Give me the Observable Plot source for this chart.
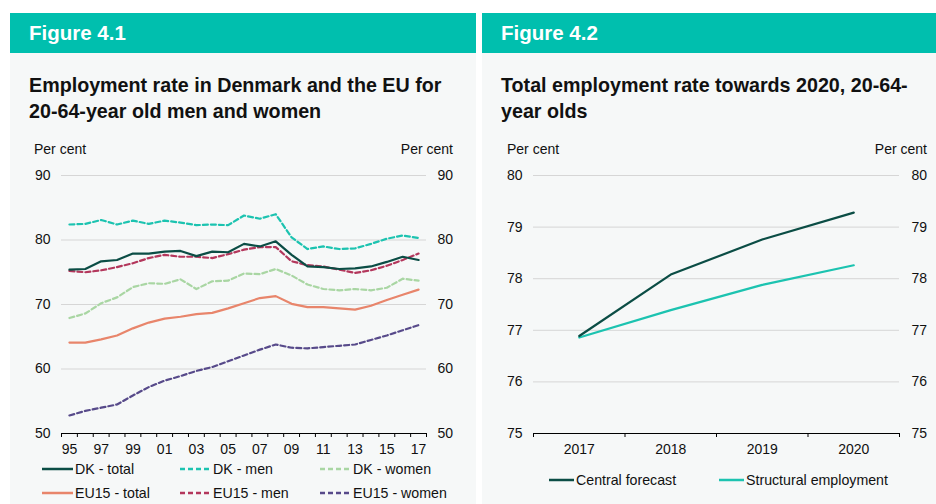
<!DOCTYPE html>
<html><head><meta charset="utf-8">
<script src="https://cdn.jsdelivr.net/npm/d3@7"></script>
<script src="https://cdn.jsdelivr.net/npm/@observablehq/plot@0.6"></script>
<style>
body{margin:0;width:936px;height:504px;overflow:hidden;background:#fff;font-family:"Liberation Sans",Arial,sans-serif;position:relative;color:#111}
.abs{position:absolute}
.panel{background:#f6f8f8}
.hdr{background:#00bfae;color:#fff;font-weight:bold;font-size:20.5px;line-height:40px;box-sizing:border-box;padding-left:19px}
.ttl{font-weight:bold;font-size:19.7px;line-height:26px;color:#111;white-space:nowrap}
.pc{font-size:14px;line-height:16px;white-space:nowrap}
.leg{display:flex;align-items:center;font-size:14.2px;line-height:16px;white-space:nowrap}
.leg svg{margin-right:2px}
</style>
</head><body>
<div class="abs panel" style="left:10px;top:13px;width:466px;height:491px"></div>
<div class="abs panel" style="left:482px;top:13px;width:454px;height:491px"></div>
<div class="abs hdr" style="left:10px;top:13px;width:466px;height:40px">Figure 4.1</div>
<div class="abs hdr" style="left:482px;top:13px;width:454px;height:40px">Figure 4.2</div>
<div class="abs ttl" style="left:29px;top:72px">Employment rate in Denmark and the EU for<br>20-64-year old men and women</div>
<div class="abs ttl" style="left:501px;top:72px">Total employment rate towards 2020, 20-64-<br>year olds</div>
<div class="abs pc" style="left:34px;top:141px">Per cent</div>
<div class="abs pc" style="left:400px;top:141px;width:53px;text-align:right">Per cent</div>
<div class="abs pc" style="left:507px;top:141px">Per cent</div>
<div class="abs pc" style="left:860px;top:141px;width:67px;text-align:right">Per cent</div>
<div id="c1" class="abs" style="left:10px;top:140px"></div>
<div id="c2" class="abs" style="left:482px;top:140px"></div>
<div id="leg1" class="abs" style="left:0;top:0"></div>
<div id="leg2" class="abs" style="left:0;top:0"></div>
<script>
// ---- Figure 4.1 data ----
const years = [1995,1996,1997,1998,1999,2000,2001,2002,2003,2004,2005,2006,2007,2008,2009,2010,2011,2012,2013,2014,2015,2016,2017];
const xLabelYears = [1995,1997,1999,2001,2003,2005,2007,2009,2011,2013,2015,2017];
const yTicks1 = [50,60,70,80,90];
const dkTotal   = [75.4,75.5,76.7,76.9,77.9,77.9,78.2,78.3,77.5,78.2,78.1,79.4,79.0,79.8,77.7,75.9,75.8,75.5,75.6,75.9,76.6,77.4,76.9];
const dkMen     = [82.4,82.5,83.1,82.4,83.0,82.5,83.0,82.7,82.3,82.4,82.3,83.8,83.3,84.0,80.4,78.6,79.0,78.6,78.7,79.4,80.2,80.7,80.3];
const dkWomen   = [67.9,68.6,70.2,71.1,72.7,73.3,73.2,73.9,72.4,73.6,73.7,74.8,74.7,75.5,74.5,73.1,72.4,72.2,72.4,72.2,72.6,74.0,73.7];
const eu15Total = [64.1,64.1,64.6,65.2,66.3,67.2,67.8,68.1,68.5,68.7,69.4,70.2,71.0,71.3,70.1,69.6,69.6,69.4,69.2,69.8,70.7,71.5,72.3];
const eu15Men   = [75.2,75.0,75.3,75.8,76.4,77.2,77.7,77.4,77.4,77.2,77.8,78.5,78.9,78.9,76.7,76.1,75.9,75.4,74.9,75.3,76.0,76.9,77.9];
const eu15Women = [52.8,53.5,54.0,54.5,55.9,57.2,58.2,58.9,59.7,60.3,61.2,62.1,63.0,63.8,63.3,63.2,63.4,63.6,63.8,64.5,65.2,66.0,66.8];
const seriesNames1 = ["DK - total","DK - men","DK - women","EU15 - total","EU15 - men","EU15 - women"];

// ---- Figure 4.2 data ----
const years2 = [2017,2018,2019,2020];
const yTicks2 = [75,76,77,78,79,80];
const centralForecast = [76.89,78.08,78.76,79.28];
const structuralEmployment = [76.86,77.39,77.88,78.26];
const seriesNames2 = ["Central forecast","Structural employment"];

const styles1 = [
  {stroke:"#0b4d45", dash:null},
  {stroke:"#1cc3b0", dash:"5,3"},
  {stroke:"#a9d6a3", dash:"5,3"},
  {stroke:"#e8856b", dash:null},
  {stroke:"#b3375c", dash:"5,3"},
  {stroke:"#574a8a", dash:"5,3"}
];
const styles2 = [{stroke:"#0b4d45", dash:null},{stroke:"#1cc3b0", dash:null}];

const font = '"Liberation Sans", Arial, sans-serif';
const vals1 = [dkTotal, dkMen, dkWomen, eu15Total, eu15Men, eu15Women];
const order1 = [2,3,5,1,4,0]; // drawing order
const lineMarks1 = order1.map(k => Plot.line(
  years.map((y,i)=>({year:y, value:vals1[k][i]})),
  {x:"year", y:"value", stroke: styles1[k].stroke, strokeWidth:2.2, strokeDasharray: styles1[k].dash || undefined}
));
const bounds1 = years.map(y=>y-0.5).concat([years[years.length-1]+0.5]);

const chart1 = Plot.plot({
  width:466, height:320, marginLeft:51, marginRight:50, marginTop:35, marginBottom:27,
  style:{background:"transparent", fontFamily:font, fontSize:"14px", color:"#111", overflow:"visible"},
  x:{domain:[years[0]-0.5, years[years.length-1]+0.5]},
  y:{domain:[yTicks1[0], yTicks1[yTicks1.length-1]]},
  marks:[
    Plot.gridY(yTicks1.slice(1), {stroke:"#d6d6d6", strokeOpacity:1}),
    Plot.axisY(yTicks1, {anchor:"left", tickSize:0, tickPadding:11, tickFormat:d=>String(d), label:null}),
    Plot.axisY(yTicks1, {anchor:"right", tickSize:0, tickPadding:11, tickFormat:d=>String(d), label:null}),
    ...lineMarks1,
    Plot.ruleY([yTicks1[0]], {stroke:"#000", strokeWidth:1.2}),
    Plot.axisX(bounds1, {tickSize:4, tickFormat:()=>"", label:null, stroke:"#000"}),
    Plot.axisX(xLabelYears, {tickSize:0, tickPadding:11, tickFormat:d=>String(d).slice(2), label:null})
  ]
});
document.getElementById("c1").appendChild(chart1);

const vals2 = [centralForecast, structuralEmployment];
const bounds2 = years2.map(y=>y-0.5).concat([years2[years2.length-1]+0.5]);
const chart2 = Plot.plot({
  width:454, height:320, marginLeft:51, marginRight:37, marginTop:35, marginBottom:27,
  style:{background:"transparent", fontFamily:font, fontSize:"14px", color:"#111", overflow:"visible"},
  x:{domain:[years2[0]-0.5, years2[years2.length-1]+0.5]},
  y:{domain:[yTicks2[0], yTicks2[yTicks2.length-1]]},
  marks:[
    Plot.gridY(yTicks2.slice(1), {stroke:"#d6d6d6", strokeOpacity:1}),
    Plot.axisY(yTicks2, {anchor:"left", tickSize:0, tickPadding:11, tickFormat:d=>String(d), label:null}),
    Plot.axisY(yTicks2, {anchor:"right", tickSize:0, tickPadding:12, tickFormat:d=>String(d), label:null}),
    ...[1,0].map(k => Plot.line(years2.map((y,i)=>({year:y, value:vals2[k][i]})),
      {x:"year", y:"value", stroke:styles2[k].stroke, strokeWidth:2.2})),
    Plot.ruleY([yTicks2[0]], {stroke:"#000", strokeWidth:1.2}),
    Plot.axisX(bounds2, {tickSize:4, tickFormat:()=>"", label:null, stroke:"#000"}),
    Plot.axisX(years2, {tickSize:0, tickPadding:11, tickFormat:d=>String(d), label:null})
  ]
});
document.getElementById("c2").appendChild(chart2);

// ---- legends ----
function legItem(name, st, x, yc, w){
  const d = document.createElement("div");
  d.className = "abs leg";
  d.style.left = x+"px"; d.style.top = (yc-8)+"px";
  const dash = st.dash ? `stroke-dasharray="${st.dash}"` : "";
  d.innerHTML = `<svg width="${w}" height="6"><line x1="0" y1="3" x2="${w}" y2="3" stroke="${st.stroke}" stroke-width="2.5" ${dash}/></svg><span>${name}</span>`;
  return d;
}
const leg1 = document.getElementById("leg1");
const cols1 = [42,180,320], rows1 = [469,493];
seriesNames1.forEach((n,i)=>{
  leg1.appendChild(legItem(n, styles1[i], cols1[i%3], rows1[Math.floor(i/3)], 31));
});
const leg2 = document.getElementById("leg2");
const cols2 = [549,719];
seriesNames2.forEach((n,i)=>{
  leg2.appendChild(legItem(n, styles2[i], cols2[i], 480, 25));
});
</script>
</body></html>
